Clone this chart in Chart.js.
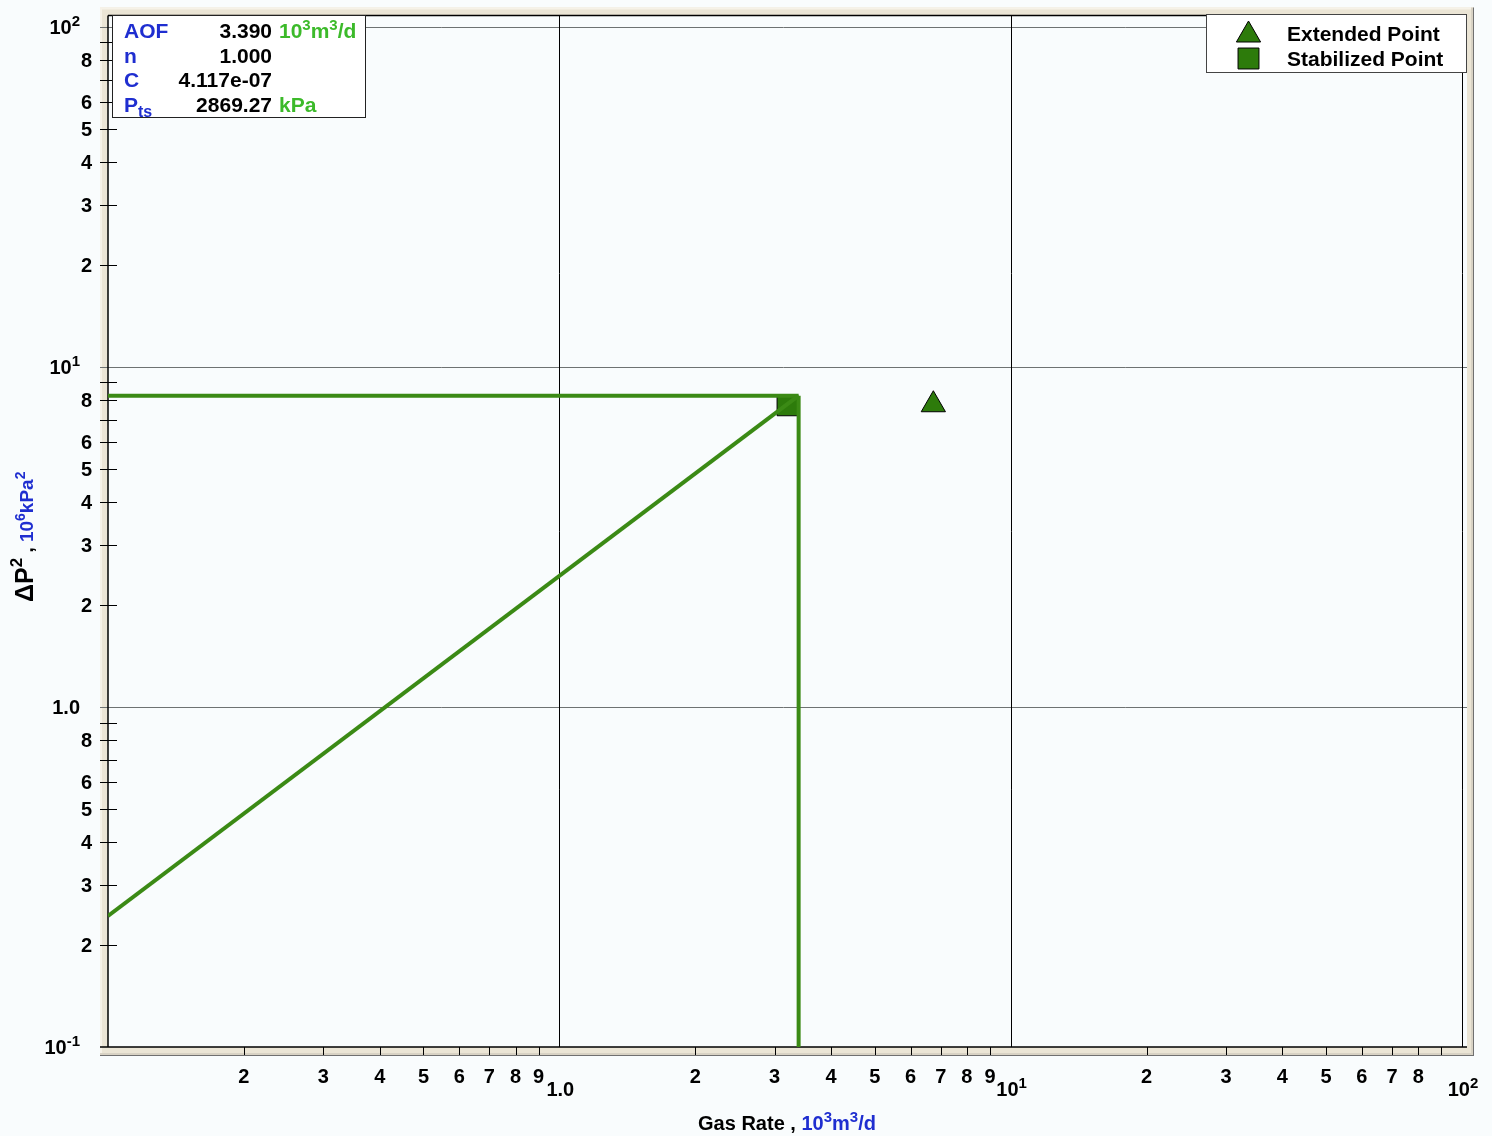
<!DOCTYPE html>
<html><head><meta charset="utf-8">
<script src="https://cdn.jsdelivr.net/npm/chart.js@4.4.0/dist/chart.umd.min.js"></script>
<style>html,body{margin:0;padding:0;background:#f9fcfd;} #wrap{position:relative;width:1492px;height:1136px;} canvas{display:block}</style>
</head><body><div id="wrap"><canvas id="c" width="1492" height="1136"></canvas></div>
<script>
// ---- data ----
const lineQ = [0.1, 3.39];
const lineDP2 = [0.24285, 8.2327];
const ptsQ = [0.1, 3.39];
const ptsDP2 = [8.2327, 8.2327];
const aofQ = [3.39, 3.39];
const aofDP2 = [8.2327, 0.1];
const stabilizedQ = [3.20];
const stabilizedDP2 = [7.70];
const extendedQ = [6.74];
const extendedDP2 = [7.74];
// ---- axes / ticks ----
const xRange = [0.1, 100];
const yRange = [0.1, 108];
const decades = [0.1, 1, 10, 100];
const minorMult = [2, 3, 4, 5, 6, 7, 8, 9];
const yMinorLabels = [2, 3, 4, 5, 6, 8];
const xMinorLabelSets = [[2,3,4,5,6,7,8,9],[2,3,4,5,6,7,8,9],[2,3,4,5,6,7,8]];
const yDecadeLabels = [['10','-1'], ['1.0',''], ['10','1'], ['10','2']];
const xDecadeLabels = [null, ['1.0',''], ['10','1'], ['10','2']];
// ---- text ----
const infoLabels = ['AOF', 'n', 'C', 'P'];
const infoValues = ['3.390', '1.000', '4.117e-07', '2869.27'];
const legendLabels = ['Extended Point', 'Stabilized Point'];

const FONT = '"Liberation Sans", Arial, Helvetica, sans-serif';
const BLUE = '#1f2ed0';
const UGREEN = '#3cba2a';
const LGREEN = '#3b8a15';
const MGREEN = '#2d7b0b';

function pts(xs, ys){ return xs.map((x,i)=>({x:x, y:ys[i]})); }

function drawRich(ctx, parts, x, y, align){
  let w = 0;
  parts.forEach(p=>{ ctx.font = p.font; p.w = ctx.measureText(p.t).width; w += p.w; });
  let cx = align==='right' ? x - w : align==='center' ? x - w/2 : x;
  parts.forEach(p=>{
    ctx.font = p.font; ctx.fillStyle = p.color || '#000';
    ctx.textAlign = 'left'; ctx.textBaseline = 'alphabetic';
    ctx.fillText(p.t, cx, y + (p.dy||0));
    cx += p.w;
  });
}
function b(sz){ return 'bold ' + sz + 'px ' + FONT; }

const decor = {
  id: 'decor',
  beforeDraw(chart){
    const ctx = chart.ctx, ca = chart.chartArea;
    const xs = chart.scales.x, ys = chart.scales.y;
    ctx.save();
    ctx.fillStyle = '#f9fcfd'; ctx.fillRect(0,0,chart.width,chart.height);
    // bevel frame
    const L = ca.left - 8, T = ca.top - 8, R = ca.right + 12, B = ca.bottom + 9;
    ctx.fillStyle = '#ebe5d5'; ctx.fillRect(L, T, R-L, B-T);
    ctx.fillStyle = '#f6f2e8'; ctx.fillRect(L, T, R-L, 2); ctx.fillRect(L, T, 2, B-T);
    ctx.fillStyle = '#d8d2c4'; ctx.fillRect(L, B-3, R-L, 2); ctx.fillRect(R-3, T, 2, B-T);
    ctx.fillStyle = '#707070'; ctx.fillRect(L, B-1, R-L, 1); ctx.fillRect(R-1, T, 1, B-T);
    ctx.fillStyle = '#f9fcfd'; ctx.fillRect(ca.left, ca.top, ca.right + 5 - ca.left, ca.bottom - ca.top);
    // gridlines
    ctx.lineWidth = 1;
    ctx.strokeStyle = '#6e7272';
    decades.forEach(d=>{
      const y = Math.round(ys.getPixelForValue(d)) + 0.5;
      if (d > yRange[0]) { ctx.beginPath(); ctx.moveTo(L, y); ctx.lineTo(ca.right+5, y); ctx.stroke(); }
    });
    ctx.strokeStyle = '#000';
    decades.forEach(d=>{
      const x = Math.round(xs.getPixelForValue(d)) + 0.5;
      if (d > xRange[0] && d < xRange[1]) { ctx.beginPath(); ctx.moveTo(x, ca.top); ctx.lineTo(x, ca.bottom); ctx.stroke(); }
    });
    // borders
    ctx.strokeStyle = '#000'; ctx.lineWidth = 1.5;
    ctx.beginPath();
    ctx.moveTo(ca.left, ca.top); ctx.lineTo(ca.right+5, ca.top);
    ctx.moveTo(ca.left, ca.top); ctx.lineTo(ca.left, ca.bottom);
    ctx.moveTo(L, ca.bottom); ctx.lineTo(ca.right+5, ca.bottom);
    ctx.stroke();
    ctx.lineWidth = 1;
    ctx.beginPath(); ctx.moveTo(ca.right+0.5, ca.top); ctx.lineTo(ca.right+0.5, ca.bottom); ctx.stroke();
    // minor ticks
    ctx.strokeStyle = '#000'; ctx.lineWidth = 1;
    decades.slice(0,3).forEach(d=>{
      minorMult.forEach(m=>{
        const v = d*m;
        const y = Math.round(ys.getPixelForValue(v)) + 0.5;
        ctx.beginPath(); ctx.moveTo(L, y); ctx.lineTo(ca.left + 9, y); ctx.stroke();
        const x = Math.round(xs.getPixelForValue(v)) + 0.5;
        ctx.beginPath(); ctx.moveTo(x, ca.bottom); ctx.lineTo(x, ca.bottom + 8); ctx.stroke();
      });
    });
    ctx.restore();
  },
  afterDraw(chart){
    const ctx = chart.ctx, ca = chart.chartArea;
    const xs = chart.scales.x, ys = chart.scales.y;
    ctx.save();
    // y tick labels
    decades.slice(0,3).forEach(d=>{
      yMinorLabels.forEach(m=>{
        const y = ys.getPixelForValue(d*m);
        drawRich(ctx, [{t:String(m), font:b(20)}], ca.left - 16, y + 7, 'right');
      });
    });
    decades.forEach((d,i)=>{
      const y = ys.getPixelForValue(d);
      const lab = yDecadeLabels[i];
      const parts = [{t:lab[0], font:b(20)}];
      if (lab[1]) parts.push({t:lab[1], font:b(15), dy:-8});
      drawRich(ctx, parts, ca.left - 28, y + 7, 'right');
    });
    // x tick labels
    decades.slice(0,3).forEach((d,i)=>{
      xMinorLabelSets[i].forEach(m=>{
        const x = xs.getPixelForValue(d*m);
        drawRich(ctx, [{t:String(m), font:b(20)}], x, ca.bottom + 36, 'center');
      });
    });
    decades.forEach((d,i)=>{
      const lab = xDecadeLabels[i];
      if (!lab) return;
      const x = xs.getPixelForValue(d);
      const parts = [{t:lab[0], font:b(20)}];
      if (lab[1]) parts.push({t:lab[1], font:b(15), dy:-8});
      drawRich(ctx, parts, x + 1, ca.bottom + 49, 'center');
    });
    // x title
    drawRich(ctx, [
      {t:'Gas Rate , ', font:b(20)},
      {t:'10', font:b(20), color:BLUE},
      {t:'3', font:b(15), color:BLUE, dy:-8},
      {t:'m', font:b(20), color:BLUE},
      {t:'3', font:b(15), color:BLUE, dy:-8},
      {t:'/d', font:b(20), color:BLUE}
    ], 787, 1130, 'center');
    // y title
    ctx.save();
    ctx.translate(33, 602); ctx.rotate(-Math.PI/2);
    drawRich(ctx, [
      {t:'\u0394P', font:b(25)},
      {t:'2', font:b(17), dy:-11},
      {t:' , ', font:b(19)},
      {t:'10', font:b(19), color:BLUE},
      {t:'6', font:b(14), color:BLUE, dy:-8},
      {t:'kPa', font:b(19), color:BLUE},
      {t:'2', font:b(14), color:BLUE, dy:-8}
    ], 0, 0, 'left');
    ctx.restore();
    // info box
    ctx.fillStyle = '#ffffff'; ctx.fillRect(112, 15, 254, 103);
    ctx.strokeStyle = '#222'; ctx.lineWidth = 1; ctx.strokeRect(112.5, 15.5, 253, 102);
    const rowsY = [38, 63, 87, 112];
    infoLabels.forEach((l,i)=>{
      const parts = [{t:l, font:b(21), color:BLUE}];
      if (i===3) parts.push({t:'ts', font:b(16), color:BLUE, dy:5});
      drawRich(ctx, parts, 124, rowsY[i], 'left');
      drawRich(ctx, [{t:infoValues[i], font:b(21)}], 272, rowsY[i], 'right');
    });
    drawRich(ctx, [
      {t:'10', font:b(21), color:UGREEN},
      {t:'3', font:b(15), color:UGREEN, dy:-8},
      {t:'m', font:b(21), color:UGREEN},
      {t:'3', font:b(15), color:UGREEN, dy:-8},
      {t:'/d', font:b(21), color:UGREEN}
    ], 279, rowsY[0], 'left');
    drawRich(ctx, [{t:'kPa', font:b(21), color:UGREEN}], 279, rowsY[3], 'left');
    // legend
    ctx.fillStyle = '#ffffff'; ctx.fillRect(1206, 14, 260, 58);
    ctx.strokeStyle = '#444'; ctx.strokeRect(1206.5, 14.5, 260, 58);
    const H = Chart.helpers;
    const mk = [
      {style:'triangle', r:14, y:35},
      {style:'rect', r:14.8, y:58.5}
    ];
    mk.forEach((m,i)=>{
      ctx.fillStyle = MGREEN; ctx.strokeStyle = '#000'; ctx.lineWidth = 1;
      if (H && H.drawPoint) {
        H.drawPoint(ctx, {pointStyle:m.style, radius:m.r, rotation:0, borderWidth:1}, 1248.5, m.y);
      }
      drawRich(ctx, [{t:legendLabels[i], font:b(21)}], 1287, [41, 66][i], 'left');
    });
    ctx.restore();
  }
};

const lineStyle = {borderColor: LGREEN, borderWidth: 4, pointRadius: 0, showLine: true, fill: false, tension: 0};

new Chart(document.getElementById('c'), {
  type: 'scatter',
  data: {
    datasets: [
      Object.assign({label:'Deliverability', data: pts(lineQ, lineDP2)}, lineStyle),
      Object.assign({label:'Pts2', data: pts(ptsQ, ptsDP2)}, lineStyle),
      Object.assign({label:'AOF', data: pts(aofQ, aofDP2)}, lineStyle),
      {label:'Stabilized Point', data: pts(stabilizedQ, stabilizedDP2), pointStyle:'rect', pointRadius:14.5,
       backgroundColor: MGREEN, borderColor:'#000', borderWidth:1, showLine:false},
      {label:'Extended Point', data: pts(extendedQ, extendedDP2), pointStyle:'triangle', pointRadius:14,
       backgroundColor: MGREEN, borderColor:'#000', borderWidth:1, showLine:false}
    ]
  },
  options: {
    responsive: false, animation: false,
    layout: {padding: {left: 108, top: 13, right: 30, bottom: 89}},
    plugins: {legend: {display: false}, tooltip: {enabled: false}},
    scales: {
      x: {type: 'logarithmic', min: xRange[0], max: xRange[1], display: false},
      y: {type: 'logarithmic', min: yRange[0], max: yRange[1], display: false}
    }
  },
  plugins: [decor]
});
</script></body></html>
